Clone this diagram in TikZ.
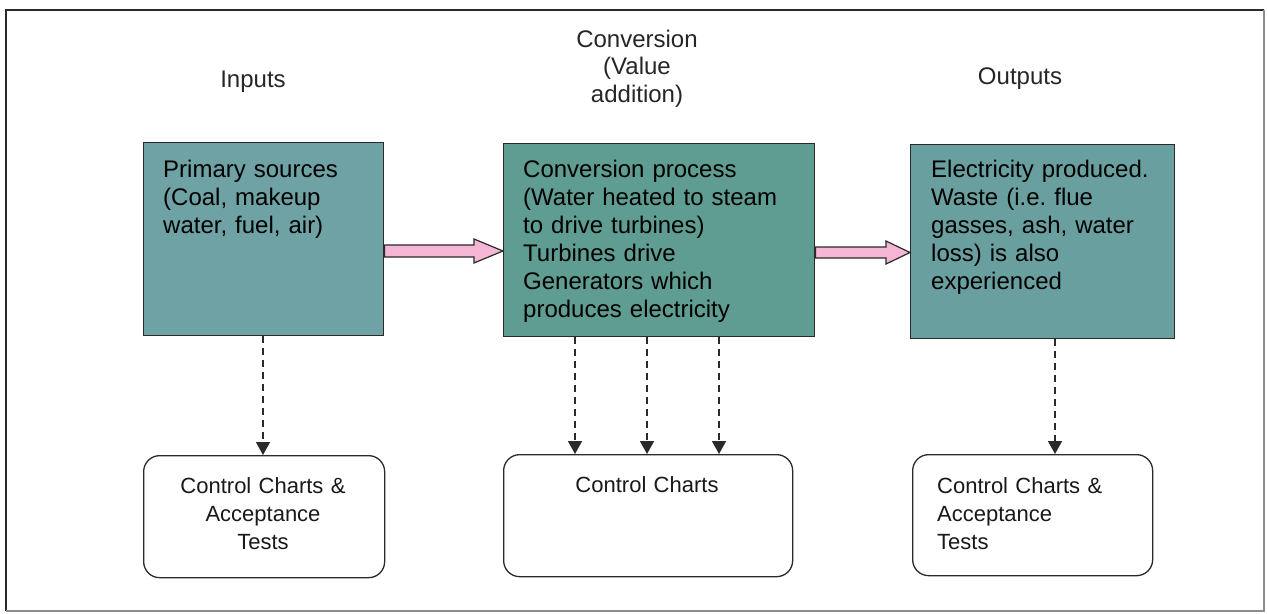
\documentclass[tikz,border=0pt]{standalone}
\usepackage{fontspec}
\setmainfont{Liberation Sans}
\usetikzlibrary{arrows.meta,calc}
\frenchspacing

\definecolor{tealA}{HTML}{6FA2A5}
\definecolor{tealB}{HTML}{5F9C91}
\definecolor{tealC}{HTML}{6A9F9F}
\definecolor{pinkfill}{HTML}{F5B5D5}
\definecolor{inkgray}{HTML}{2A2A2A}

\tikzset{
  stagebox/.style={draw=inkgray, line width=1.4pt, rectangle, inner sep=0pt, anchor=north west},
  chartbox/.style={draw=inkgray, line width=1.3pt, rectangle, rounded corners=16pt, inner sep=0pt, anchor=north west},
  boxtext/.style={inner sep=0pt, anchor=base west, align=left, text=black,
    font=\fontsize{24}{28}\selectfont},
  headtext/.style={inner sep=0pt, anchor=base, align=center, text=black!85, text width=200pt,
    font=\fontsize{24}{27.5}\selectfont},
  charttext/.style={inner sep=0pt, align=center, text=black!90,
    font=\fontsize{22}{28}\selectfont},
  blockarrow/.style={draw=inkgray, line width=1.2pt, fill=pinkfill, line join=miter},
  checkarrow/.style={draw=inkgray, line width=1.4pt, dash pattern=on 7pt off 5pt,
    -{Triangle[width=14pt,length=13pt]}}
}

\begin{document}
\begin{tikzpicture}[x=1pt,y=-1pt]
\useasboundingbox (0,0) rectangle (1268,613);
\fill[white] (0,0) rectangle (1268,613);

% outer frame
\draw[inkgray, line width=1.4pt] (6,611) -- (6,10) -- (1264,10);
\draw[black!45, line width=1.2pt] (1264,10) -- (1264,611) -- (6,611);

% column headings
\node[headtext] (hin) at (253,87) {Inputs};
\node[headtext] (hconv) at (637,47) {Conversion\\(Value\\addition)};
\node[headtext] (hout) at (1020,84) {Outputs};

% process stages
\node[stagebox, fill=tealA, minimum width=240pt, minimum height=193pt] (b1) at (143,142) {};
\node[stagebox, fill=tealB, minimum width=311pt, minimum height=193pt] (b2) at (503,143) {};
\node[stagebox, fill=tealC, minimum width=264pt, minimum height=194pt] (b3) at (910,144) {};

\node[boxtext, text width=215pt] (t1) at (163,177)
  {Primary sources\\(Coal, makeup\\water, fuel, air)};
\node[boxtext, text width=285pt] (t2) at (523,177)
  {Conversion process\\(Water heated to steam\\to drive turbines)\\Turbines drive\\Generators which\\produces electricity};
\node[boxtext, text width=240pt] (t3) at (931,177)
  {Electricity produced.\\Waste (i.e. flue\\gasses, ash, water\\loss) is also\\experienced};

% quality checks
\node[chartbox, minimum width=241pt, minimum height=122pt] (c1) at (143,455) {};
\node[chartbox, minimum width=289pt, minimum height=122pt] (c2) at (503,454) {};
\node[chartbox, minimum width=240pt, minimum height=121pt] (c3) at (912,454) {};

\node[charttext, anchor=base, text width=230pt] (ct1) at (263,493)
  {Control Charts \&\\Acceptance\\Tests};
\node[charttext, anchor=base, text width=280pt] (ct2) at (647,492)
  {Control Charts};
\node[charttext, anchor=base west, align=left, text width=220pt] (ct3) at (937,493)
  {Control Charts \&\\Acceptance\\Tests};

% flow between stages
\coordinate (a1s) at (b1.east |- 0,251);
\coordinate (a1t) at (b2.west |- 0,251);
\draw[blockarrow] ($(a1s)+(0,-6)$) -- ($(a1t)+(-29,-6)$) -- ($(a1t)+(-29,-12)$) -- (a1t)
  -- ($(a1t)+(-29,12)$) -- ($(a1t)+(-29,6)$) -- ($(a1s)+(0,6)$) -- cycle;
\coordinate (a2s) at (b2.east |- 0,252.5);
\coordinate (a2t) at (b3.west |- 0,252.5);
\draw[blockarrow] ($(a2s)+(0,-5.5)$) -- ($(a2t)+(-24,-5.5)$) -- ($(a2t)+(-24,-11.5)$) -- (a2t)
  -- ($(a2t)+(-24,11.5)$) -- ($(a2t)+(-24,5.5)$) -- ($(a2s)+(0,5.5)$) -- cycle;

% dashed links to the checks
\coordinate (x1) at (263,0);
\coordinate (x2a) at (575,0);
\coordinate (x2b) at (647,0);
\coordinate (x2c) at (719,0);
\coordinate (x3) at (1055,0);
\draw[checkarrow] (b1.south -| x1) -- (c1.north -| x1);
\draw[checkarrow] (b2.south -| x2a) -- (c2.north -| x2a);
\draw[checkarrow] (b2.south -| x2b) -- (c2.north -| x2b);
\draw[checkarrow] (b2.south -| x2c) -- (c2.north -| x2c);
\draw[checkarrow] (b3.south -| x3) -- (c3.north -| x3);
\end{tikzpicture}
\end{document}
